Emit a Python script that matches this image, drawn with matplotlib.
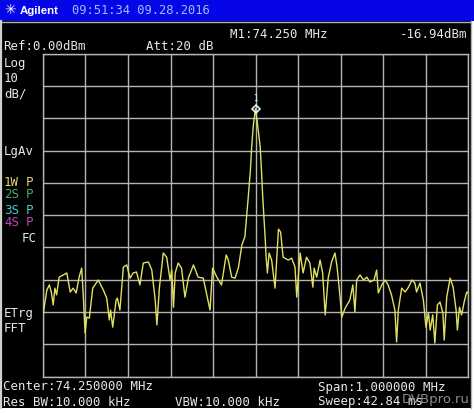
import matplotlib.pyplot as plt
import numpy as np
from matplotlib.patches import Rectangle

# trace: frequency (MHz) and level (dBm)
freq_mhz = [73.7507, 73.759, 73.765, 73.770, 73.774, 73.778, 73.782, 73.788, 73.798, 73.806,
            73.814, 73.821, 73.828, 73.835, 73.841, 73.845, 73.849, 73.853, 73.859, 73.867,
            73.880, 73.892, 73.900, 73.906, 73.909, 73.914, 73.922, 73.925, 73.931, 73.939,
            73.947, 73.955, 73.962, 73.970, 73.978, 73.986, 73.998, 74.006, 74.014, 74.018,
            74.024, 74.033, 74.041, 74.049, 74.053, 74.057, 74.061, 74.068, 74.076, 74.084,
            74.092, 74.104, 74.115, 74.127, 74.143, 74.149, 74.159, 74.170, 74.181, 74.186,
            74.194, 74.202, 74.210, 74.218, 74.225, 74.233, 74.238, 74.241, 74.245, 74.250,
            74.255, 74.261, 74.264, 74.267, 74.273, 74.275, 74.278, 74.282, 74.288, 74.296,
            74.304, 74.309, 74.315, 74.327, 74.335, 74.343, 74.347, 74.355, 74.362, 74.370,
            74.378, 74.385, 74.388, 74.394, 74.402, 74.408, 74.414, 74.421, 74.429, 74.437,
            74.442, 74.449, 74.453, 74.461, 74.472, 74.479, 74.484, 74.488, 74.496, 74.504,
            74.512, 74.519, 74.529, 74.535, 74.539, 74.547, 74.555, 74.562, 74.570, 74.578,
            74.582, 74.586, 74.594, 74.602, 74.610, 74.618, 74.625, 74.629, 74.637, 74.645,
            74.651, 74.657, 74.661, 74.667, 74.672, 74.678, 74.684, 74.691, 74.694, 74.700,
            74.708, 74.715, 74.722, 74.725, 74.730, 74.735, 74.741, 74.747, 74.750]
level_dbm = [-80.3, -73.2, -71.6, -74.1, -77.8, -72.6, -74.7, -69.2, -68.5, -67.9,
             -73.8, -72.6, -74.1, -69.2, -66.4, -75.4, -86.5, -81.6, -81.9, -72.6,
             -70.1, -73.2, -75.7, -82.5, -79.4, -84.7, -76.3, -75.7, -79.4, -66.1,
             -65.4, -69.5, -67.9, -67.6, -71.6, -64.8, -64.5, -67.0, -76.3, -84.0,
             -72.3, -61.7, -63.0, -70.1, -67.0, -78.5, -67.9, -64.8, -66.4, -75.4,
             -69.5, -65.4, -69.2, -69.5, -79.4, -66.4, -69.2, -71.6, -62.3, -63.9,
             -69.2, -69.5, -66.1, -59.2, -56.7, -44.3, -36.0, -28.8, -22.0, -16.9,
             -22.0, -28.8, -36.0, -44.3, -57.7, -63.0, -67.9, -61.7, -63.9, -72.6,
             -54.3, -55.2, -63.0, -63.9, -63.3, -66.1, -75.4, -61.7, -67.9, -63.0,
             -64.8, -72.3, -66.4, -69.2, -63.9, -67.9, -80.9, -69.5, -64.5, -61.7,
             -66.1, -75.4, -81.6, -78.8, -76.3, -71.6, -80.0, -70.1, -68.5, -70.1,
             -69.2, -70.7, -70.1, -67.0, -74.1, -71.6, -70.1, -71.6, -74.7, -79.4,
             -89.3, -79.4, -72.6, -73.8, -72.3, -70.1, -71.0, -73.8, -71.0, -76.3,
             -84.7, -80.3, -85.6, -80.9, -89.6, -77.8, -76.9, -80.3, -88.7, -75.4,
             -69.5, -72.3, -79.4, -85.6, -78.5, -80.9, -76.9, -73.8, -74.1]

marker_freq = 74.250
marker_level = -16.94
center_mhz = 74.25
span_mhz = 1.0
ref_level = 0.0
db_per_div = 10

W, H = 474, 413
fig = plt.figure(figsize=(W / 100, H / 100), dpi=100, facecolor='white')

# background layer in pixel coords
bg = fig.add_axes([0, 0, 1, 1])
bg.set_xlim(0, W)
bg.set_ylim(H, 0)
bg.axis('off')
bg.add_patch(Rectangle((0, 0), W, 21, color='#0505e8', lw=0))
bg.add_patch(Rectangle((0, 21), 471, 387, color='black', lw=0))
bg.plot([0, 471], [21.5, 21.5], color='#b0b0b0', lw=1)
bg.plot([471, 471], [21, 408], color='#b0b0b0', lw=1)
bg.plot([0.8, 0.8], [21, 408], color='#d0d0d0', lw=1.6)

mono = 'DejaVu Sans Mono'
fs = 8.9
txt = '#e8e8e8'

bg.text(4, 10.5, '✳', color='white', fontsize=10, va='center', ha='left')
bg.text(20, 10.5, 'Agilent', color='white', fontsize=8.2, fontweight='bold',
        family='Liberation Sans', va='center', ha='left')
bg.text(72, 11, '09:51:34 09.28.2016', color='#9cc0f4', fontsize=8.7, family=mono,
        va='center', ha='left')

bg.text(230, 34, 'M1:74.250 MHz', color=txt, fontsize=fs, family=mono, va='center')
bg.text(467, 34, '-16.94dBm', color=txt, fontsize=fs, family=mono, va='center', ha='right')
bg.text(3, 47, 'Ref:0.00dBm', color=txt, fontsize=fs, family=mono, va='center')
bg.text(146, 47, 'Att:20 dB', color=txt, fontsize=fs, family=mono, va='center')

for s, y in [('Log', 64), ('10', 79), ('dB/', 94), ('LgAv', 152)]:
    bg.text(4, y, s, color=txt, fontsize=fs, family=mono, va='center')

traces = [('1W', '#d8d870', 182), ('2S', '#40b060', 195), ('3S', '#50c8c8', 210), ('4S', '#c040c0', 223)]
for s, c, y in traces:
    bg.text(4, y, s, color=c, fontsize=fs, family=mono, va='center')
    bg.text(26, y, 'P', color=c, fontsize=fs, family=mono, va='center')
bg.text(22, 239, 'FC', color=txt, fontsize=fs, family=mono, va='center')
bg.text(4, 314, 'ETrg', color=txt, fontsize=fs, family=mono, va='center')
bg.text(4, 328, 'FFT', color=txt, fontsize=fs, family=mono, va='center')

bg.text(3, 387, 'Center:74.250000 MHz', color=txt, fontsize=fs, family=mono, va='center')
bg.text(318, 387, 'Span:1.000000 MHz', color=txt, fontsize=fs, family=mono, va='center')
bg.text(3, 402, 'Res BW:10.000 kHz', color=txt, fontsize=fs, family=mono, va='center')
bg.text(175, 402, 'VBW:10.000 kHz', color=txt, fontsize=fs, family=mono, va='center')
bg.text(318, 402, 'Sweep:42.84 ms', color=txt, fontsize=fs, family=mono, va='center')
bg.text(470, 399, 'DVBpro.ru', color='#9a9a9a', fontsize=9.5, ha='right', va='center', alpha=0.9)

# spectrum axes
x0, x1, y0, y1 = 43, 468, 54, 376.5
ax = fig.add_axes([x0 / W, 1 - y1 / H, (x1 - x0) / W, (y1 - y0) / H])
ax.set_facecolor('none')
ax.set_xlim(center_mhz - span_mhz / 2, center_mhz + span_mhz / 2)
ax.set_ylim(ref_level - 10 * db_per_div, ref_level)
ax.set_xticks(np.linspace(center_mhz - span_mhz / 2, center_mhz + span_mhz / 2, 11))
ax.set_yticks(np.linspace(ref_level - 10 * db_per_div, ref_level, 11))
ax.tick_params(length=0, labelbottom=False, labelleft=False)
ax.grid(True, color='#b4b4b4', lw=1)
for sp in ax.spines.values():
    sp.set_color('#b4b4b4')
    sp.set_linewidth(1)

ax.plot(freq_mhz, level_dbm, color='#e2e060', lw=1.0, zorder=3)
ax.plot(marker_freq, marker_level, marker='D', ms=4.5, mfc='none', mec='#d8f4f0', mew=1.2, zorder=4)
ax.text(marker_freq, marker_level + 3.2, '1', color='#d8f4f0', fontsize=5.5, ha='center', va='center')

fig.savefig('out.png', dpi=100, facecolor='white')
